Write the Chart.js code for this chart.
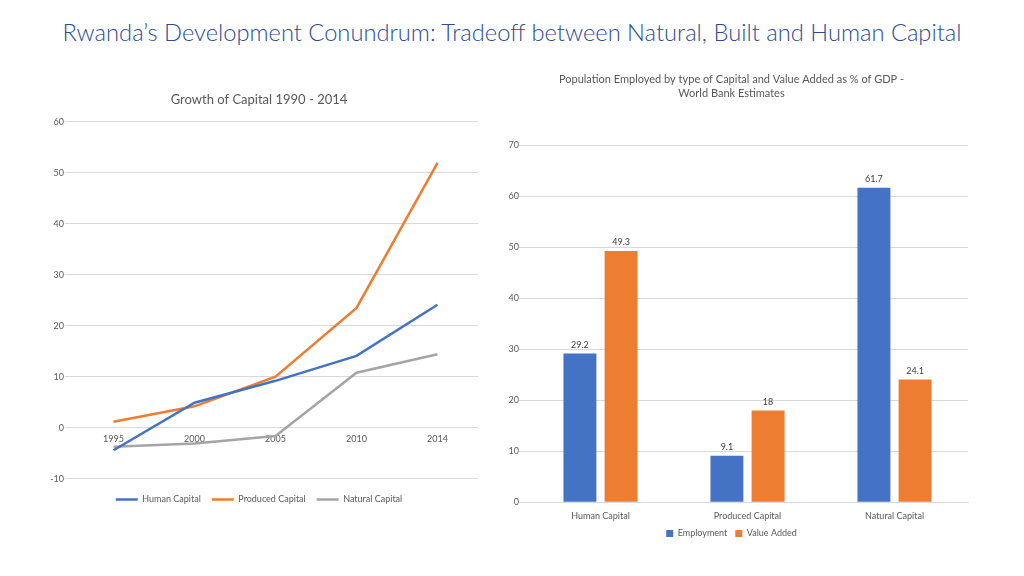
<!DOCTYPE html>
<html lang="en">
<head>
    <meta charset="UTF-8">
    <title>Rwanda Development Conundrum</title>
    <script src="https://cdn.jsdelivr.net/npm/chart.js"></script>
    <style>
        body { margin: 0; width: 1024px; height: 576px; background: #fff; position: relative; overflow: hidden; font-family: Lato, sans-serif; }
        #mainTitle { position: absolute; left: 0; width: 1024px; top: 18px; text-align: center; font-size: 23.7px; font-weight: 300; color: #2c4d92; }
        .box { position: absolute; }
    </style>
</head>
<body>
    <div id="mainTitle">Rwanda’s Development Conundrum: Tradeoff between Natural, Built and Human Capital</div>
    <div class="box" style="left:40px; top:82px; width:446px; height:432px;"><canvas id="growthChart"></canvas></div>
    <div class="box" style="left:495px; top:62px; width:482px; height:486px;"><canvas id="employChart"></canvas></div>

    <script>
        // Growth of capital (line chart)
        const years = ['1995', '2000', '2005', '2010', '2014'];
        const humanCapital = [-4.4, 4.9, 9.2, 14.1, 24.1];
        const producedCapital = [1.2, 4.2, 10.0, 23.5, 51.9];
        const naturalCapital = [-3.7, -3.1, -1.6, 10.8, 14.4];

        // Employment vs value added (bar chart)
        const capitalTypes = ['Human Capital', 'Produced Capital', 'Natural Capital'];
        const employment = [29.2, 9.1, 61.7];
        const valueAdded = [49.3, 18, 24.1];

        const BLUE = '#4472c4', ORANGE = '#ed7d31', GREY = '#a5a5a5';
        const TXT = '#595959', GRID = '#d9d9d9';
        Chart.defaults.font.family = 'Lato, sans-serif';
        Chart.defaults.color = TXT;
        Chart.defaults.animation = false;
        Chart.defaults.maintainAspectRatio = false;

        // value labels above bars
        const barLabels = {
            id: 'barLabels',
            afterDatasetsDraw(chart) {
                const ctx = chart.ctx;
                ctx.save();
                ctx.font = '9px Lato, sans-serif';
                ctx.fillStyle = '#404040';
                ctx.textAlign = 'center';
                ctx.textBaseline = 'bottom';
                chart.data.datasets.forEach((ds, i) => {
                    chart.getDatasetMeta(i).data.forEach((bar, j) => {
                        ctx.fillText(ds.data[j], bar.x, bar.y - 4);
                    });
                });
                ctx.restore();
            }
        };

        function line(label, data, color) {
            return { label: label, data: data, borderColor: color, backgroundColor: color,
                     borderWidth: 2.5, pointRadius: 0, tension: 0 };
        }

        new Chart(document.getElementById('growthChart'), {
            type: 'line',
            data: {
                labels: years,
                datasets: [
                    line('Human Capital', humanCapital, BLUE),
                    line('Produced Capital', producedCapital, ORANGE),
                    line('Natural Capital', naturalCapital, GREY)
                ]
            },
            options: {
                layout: { padding: { right: 8 } },
                plugins: {
                    title: { display: true, text: 'Growth of Capital 1990 - 2014', font: { size: 13, weight: 'normal' }, color: TXT, padding: { top: 10, bottom: 14 } },
                    legend: {
                        position: 'bottom',
                        // empty legend title just adds a small gap above the items
                        title: { display: true, text: ' ', font: { size: 1 }, padding: 2 },
                        labels: { usePointStyle: true, pointStyle: 'line', pointStyleWidth: 22, boxWidth: 22, font: { size: 9 }, padding: 11 }
                    },
                    tooltip: { enabled: false }
                },
                scales: {
                    x: {
                        offset: true,
                        position: { y: 0 },
                        grid: { display: false },
                        border: { display: false },
                        ticks: { font: { size: 9 }, padding: -2 }
                    },
                    y: {
                        min: -10, max: 60,
                        ticks: { stepSize: 10, font: { size: 9 }, padding: 1 },
                        grid: { color: GRID },
                        border: { display: false },
                        afterFit(axis) { axis.width = 33; }
                    }
                }
            }
        });

        new Chart(document.getElementById('employChart'), {
            type: 'bar',
            data: {
                labels: capitalTypes,
                datasets: [
                    { label: 'Employment', data: employment, backgroundColor: BLUE },
                    { label: 'Value Added', data: valueAdded, backgroundColor: ORANGE }
                ]
            },
            options: {
                layout: { padding: { right: 9 } },
                datasets: { bar: { categoryPercentage: 0.56, barPercentage: 0.8 } },
                plugins: {
                    title: { display: true, text: ['Population Employed by type of Capital and Value Added as % of GDP -', 'World Bank Estimates'], font: { size: 11, weight: 'normal', lineHeight: 1.25 }, color: TXT, padding: { top: 11, bottom: 45 } },
                    legend: { position: 'bottom', labels: { boxWidth: 7, boxHeight: 7, font: { size: 9 }, padding: 8 } },
                    tooltip: { enabled: false }
                },
                scales: {
                    x: {
                        grid: { display: false },
                        border: { color: GRID },
                        ticks: { font: { size: 9 }, padding: 0 }
                    },
                    y: {
                        min: 0, max: 70,
                        ticks: { stepSize: 10, font: { size: 9 }, padding: 0 },
                        grid: { color: GRID },
                        border: { display: false },
                        afterFit(axis) { axis.width = 32; }
                    }
                }
            },
            plugins: [barLabels]
        });
    </script>
</body>
</html>
